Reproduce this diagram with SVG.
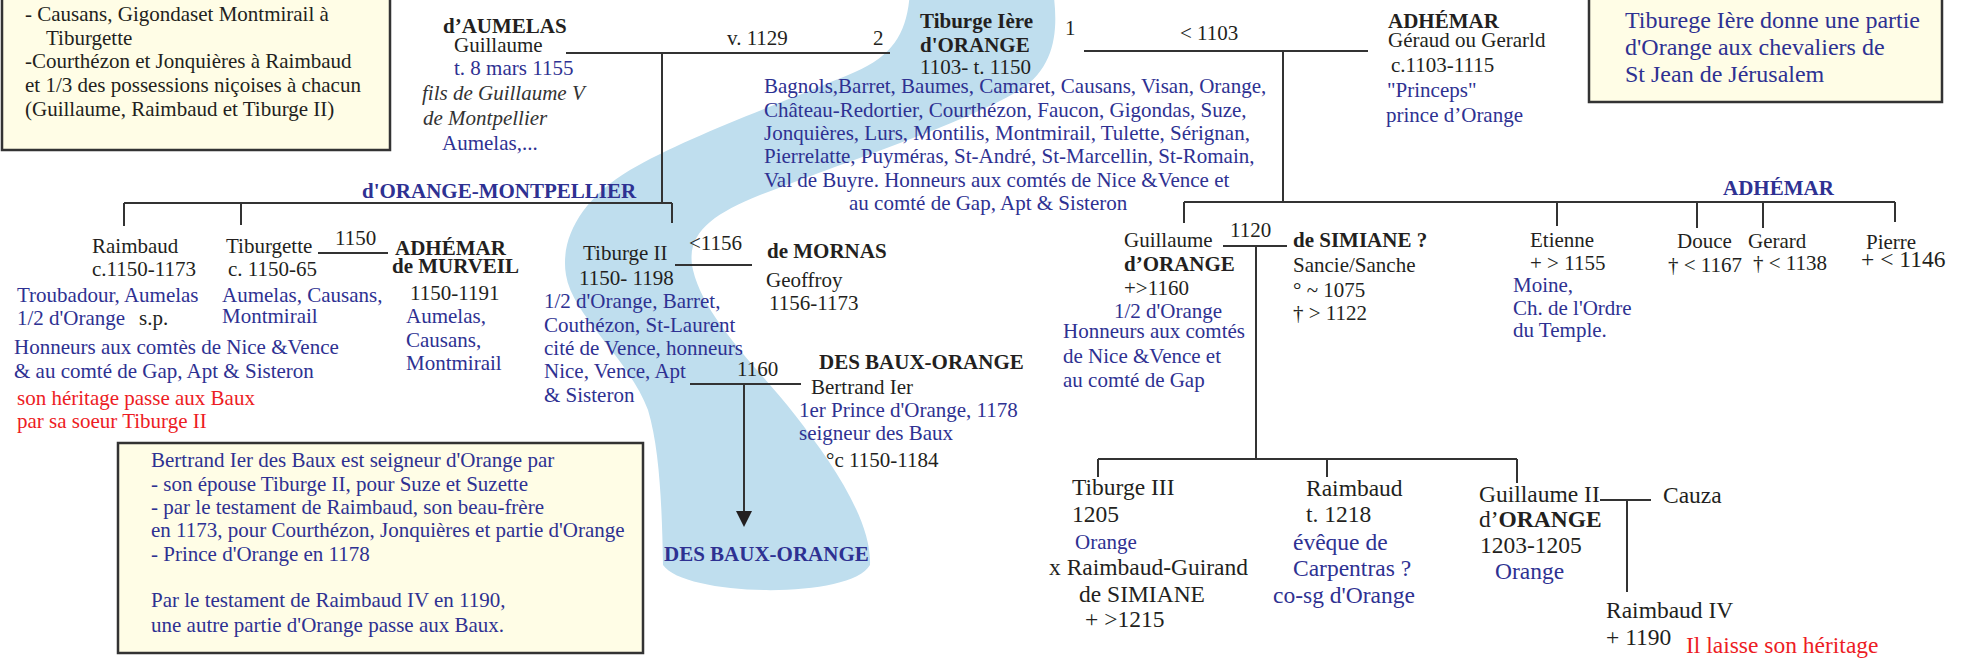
<svg xmlns="http://www.w3.org/2000/svg" width="1966" height="659" viewBox="0 0 1966 659">
<style>
text{font-family:"Liberation Serif","Times New Roman",serif;font-size:21px;fill:#231F20}
.b{font-weight:bold}
.bl{fill:#2E3192}
.r{fill:#ED1C24}
.i{font-style:italic;fill:#333}
.lg{font-size:23.5px}
.nt{font-size:24px}
.ln{stroke:#333;stroke-width:2;fill:none}
.box{fill:#FFFDE6;stroke:#333;stroke-width:2.5}
.band{fill:#BFDEEE}
</style>
<defs>
<marker id="arr" markerWidth="16" markerHeight="16" refX="8" refY="15" orient="auto" markerUnits="userSpaceOnUse" viewBox="0 0 16 16">
<path d="M0,0 L16,0 L8,16 Z" fill="#231F20" transform="rotate(-90 8 8)"/>
</marker>
</defs>
<rect width="1966" height="659" fill="#FFFFFF"/>
<path class="band" d="M 910,-10 C 908,30 895,55 855,72 C 790,100 690,135 630,170 C 580,200 560,240 566,275 C 572,315 630,360 648,410 C 660,450 662,510 663,565 C 685,597 850,600 870,565 C 872,520 830,460 795,415 C 760,370 705,320 693,270 C 685,235 710,215 760,195 C 850,160 960,125 1020,90 C 1058,65 1058,25 1053,-10 Z"/>

<g id="connectors">
<path class="ln" d="M566,53 H890 M662,53 V203 M124,203 H672 M124,203 V226 M241,203 V225 M672,203 V223"/>
<path class="ln" d="M318,253 H388"/>
<path class="ln" d="M675,265 H752"/>
<path class="ln" d="M690,384 H801 M744,384 V511"/>
<path d="M736,511 L752,511 L744,527 Z" fill="#231F20"/>
<path class="ln" d="M1084,51 H1368 M1283,51 V202 M1184,202 H1895 M1184,202 V223 M1557,202 V226 M1697,202 V228 M1763,202 V228 M1895,202 V222"/>
<path class="ln" d="M1223,246 H1287 M1256,246 V459 M1098,459 H1517 M1098,459 V477 M1327,459 V477 M1517,459 V483"/>
<path class="ln" d="M1600,500 H1651 M1627,500 V592"/>
<text x="727" y="45">v. 1129</text>
<text x="873" y="45">2</text>
<text x="1065" y="35">1</text>
<text x="1180" y="40">&lt; 1103</text>
<text x="335" y="245">1150</text>
<text x="689" y="250">&lt;1156</text>
<text x="737" y="376">1160</text>
<text x="1230" y="237">1120</text>
</g>

<g id="n-note-partage">
<rect class="box" x="2" y="-10" width="388" height="160"/>
<text x="25" y="21">- Causans, Gigondaset Montmirail à</text>
<text x="46" y="45">Tiburgette</text>
<text x="25" y="68">-Courthézon et Jonquières à Raimbaud</text>
<text x="25" y="92">et 1/3 des possessions niçoises à chacun</text>
<text x="25" y="116">(Guillaume, Raimbaud et Tiburge II)</text>
</g>

<g id="n-aumelas">
<text class="b" x="443" y="33">d’AUMELAS</text>
<text x="454" y="52">Guillaume</text>
<text class="bl" x="454" y="75">t. 8 mars 1155</text>
<text class="i" x="422" y="100">fils de Guillaume V</text>
<text class="i" x="423" y="125">de Montpellier</text>
<text class="bl" x="442" y="150">Aumelas,...</text>
</g>

<g id="n-tiburge1">
<text class="b" x="920" y="28">Tiburge Ière</text>
<text class="b" x="920" y="52">d'ORANGE</text>
<text x="920" y="74">1103- t. 1150</text>
<text class="bl" x="764" y="93">Bagnols,Barret, Baumes, Camaret, Causans, Visan, Orange,</text>
<text class="bl" x="764" y="117">Château-Redortier, Courthézon, Faucon, Gigondas, Suze,</text>
<text class="bl" x="764" y="140">Jonquières, Lurs, Montilis, Montmirail, Tulette, Sérignan,</text>
<text class="bl" x="764" y="163">Pierrelatte, Puyméras, St-André, St-Marcellin, St-Romain,</text>
<text class="bl" x="764" y="187">Val de Buyre. Honneurs aux comtés de Nice &amp;Vence et</text>
<text class="bl" x="849" y="210">au comté de Gap, Apt &amp; Sisteron</text>
</g>

<g id="n-adhemar">
<text class="b" x="1388" y="28">ADHÉMAR</text>
<text x="1388" y="47">Géraud ou Gerarld</text>
<text x="1391" y="72">c.1103-1115</text>
<text class="bl" x="1387" y="97">"Princeps"</text>
<text class="bl" x="1386" y="122">prince d’Orange</text>
</g>

<g id="n-note-hospitaliers">
<rect class="box" x="1589" y="-10" width="353" height="112"/>
<text class="bl nt" x="1625" y="28">Tiburege Ière donne une partie</text>
<text class="bl nt" x="1625" y="55">d'Orange aux chevaliers de</text>
<text class="bl nt" x="1625" y="82">St Jean de Jérusalem</text>
</g>

<g id="n-label-montpellier">
<text class="b bl" x="362" y="198">d'ORANGE-MONTPELLIER</text>
</g>
<g id="n-label-adhemar">
<text class="b bl" x="1723" y="195">ADHÉMAR</text>
</g>

<g id="n-raimbaud">
<text x="92" y="253">Raimbaud</text>
<text x="92" y="276">c.1150-1173</text>
<text class="bl" x="17" y="302">Troubadour, Aumelas</text>
<text class="bl" x="17" y="325">1/2 d'Orange</text>
<text x="139" y="325">s.p.</text>
<text class="bl" x="14" y="354">Honneurs aux comtès de Nice &amp;Vence</text>
<text class="bl" x="14" y="378">&amp; au comté de Gap, Apt &amp; Sisteron</text>
<text class="r" x="17" y="405">son héritage passe aux Baux</text>
<text class="r" x="17" y="428">par sa soeur Tiburge II</text>
</g>

<g id="n-tiburgette">
<text x="226" y="253">Tiburgette</text>
<text x="228" y="276">c. 1150-65</text>
<text class="bl" x="222" y="302">Aumelas, Causans,</text>
<text class="bl" x="222" y="323">Montmirail</text>
</g>

<g id="n-murveil">
<text class="b" x="395" y="255">ADHÉMAR</text>
<text class="b" x="392" y="273">de MURVEIL</text>
<text x="410" y="300">1150-1191</text>
<text class="bl" x="406" y="323">Aumelas,</text>
<text class="bl" x="406" y="347">Causans,</text>
<text class="bl" x="406" y="370">Montmirail</text>
</g>

<g id="n-tiburge2">
<text x="583" y="260">Tiburge II</text>
<text x="579" y="285">1150- 1198</text>
<text class="bl" x="544" y="308">1/2 d'Orange, Barret,</text>
<text class="bl" x="544" y="332">Couthézon, St-Laurent</text>
<text class="bl" x="544" y="355">cité de Vence, honneurs</text>
<text class="bl" x="544" y="378">Nice, Vence, Apt</text>
<text class="bl" x="544" y="402">&amp; Sisteron</text>
</g>

<g id="n-mornas">
<text class="b" x="767" y="258">de MORNAS</text>
<text x="766" y="287">Geoffroy</text>
<text x="769" y="310">1156-1173</text>
</g>

<g id="n-bertrand">
<text class="b" x="819" y="369">DES BAUX-ORANGE</text>
<text x="811" y="394">Bertrand Ier</text>
<text class="bl" x="799" y="417">1er Prince d'Orange, 1178</text>
<text class="bl" x="799" y="440">seigneur des Baux</text>
<text x="826" y="467">°c 1150-1184</text>
</g>

<g id="n-baux-orange">
<text class="b bl" x="664" y="561">DES BAUX-ORANGE</text>
</g>

<g id="n-note-baux">
<rect class="box" x="118" y="443" width="525" height="210"/>
<text class="bl" x="151" y="467">Bertrand Ier des Baux est seigneur d'Orange par</text>
<text class="bl" x="151" y="491">- son épouse Tiburge II, pour Suze et Suzette</text>
<text class="bl" x="151" y="514">- par le testament de Raimbaud, son beau-frère</text>
<text class="bl" x="151" y="537">en 1173, pour Courthézon, Jonquières et partie d'Orange</text>
<text class="bl" x="151" y="561">- Prince d'Orange en 1178</text>
<text class="bl" x="151" y="607">Par le testament de Raimbaud IV en 1190,</text>
<text class="bl" x="151" y="632">une autre partie d'Orange passe aux Baux.</text>
</g>

<g id="n-guillaume">
<text x="1124" y="247">Guillaume</text>
<text class="b" x="1124" y="271">d’ORANGE</text>
<text x="1124" y="295">+&gt;1160</text>
<text class="bl" x="1114" y="318">1/2 d'Orange</text>
<text class="bl" x="1063" y="338">Honneurs aux comtés</text>
<text class="bl" x="1063" y="363">de Nice &amp;Vence et</text>
<text class="bl" x="1063" y="387">au comté de Gap</text>
</g>

<g id="n-simiane">
<text class="b" x="1293" y="247">de SIMIANE ?</text>
<text x="1293" y="272">Sancie/Sanche</text>
<text x="1293" y="297">° ~ 1075</text>
<text x="1293" y="320">† &gt; 1122</text>
</g>

<g id="n-etienne">
<text x="1530" y="247">Etienne</text>
<text x="1530" y="270">+ &gt; 1155</text>
<text class="bl" x="1513" y="292">Moine,</text>
<text class="bl" x="1513" y="315">Ch. de l'Ordre</text>
<text class="bl" x="1513" y="337">du Temple.</text>
</g>

<g id="n-douce">
<text x="1677" y="248">Douce</text>
<text x="1668" y="272">† &lt; 1167</text>
</g>

<g id="n-gerard">
<text x="1748" y="248">Gerard</text>
<text x="1753" y="270">† &lt; 1138</text>
</g>

<g id="n-pierre">
<text x="1866" y="249">Pierre</text>
<text class="lg" x="1861" y="267">+ &lt; 1146</text>
</g>

<g id="n-tiburge3">
<text class="lg" x="1072" y="495">Tiburge III</text>
<text class="lg" x="1072" y="522">1205</text>
<text class="bl" x="1075" y="549">Orange</text>
<text class="lg" x="1049" y="575">x Raimbaud-Guirand</text>
<text class="lg" x="1079" y="602">de SIMIANE</text>
<text class="lg" x="1085" y="627">+ &gt;1215</text>
</g>

<g id="n-raimbaud-eveque">
<text class="lg" x="1306" y="496">Raimbaud</text>
<text class="lg" x="1306" y="522">t. 1218</text>
<text class="bl lg" x="1293" y="550">évêque de</text>
<text class="bl lg" x="1293" y="576">Carpentras ?</text>
<text class="bl lg" x="1273" y="603">co-sg d'Orange</text>
</g>

<g id="n-guillaume2">
<text class="lg" x="1479" y="502">Guillaume II</text>
<text class="lg" x="1479" y="527">d’<tspan class="b">ORANGE</tspan></text>
<text class="lg" x="1480" y="553">1203-1205</text>
<text class="bl lg" x="1495" y="579">Orange</text>
</g>

<g id="n-cauza">
<text class="lg" x="1663" y="503">Cauza</text>
</g>

<g id="n-raimbaud4">
<text class="lg" x="1606" y="618">Raimbaud IV</text>
<text class="lg" x="1606" y="645">+ 1190</text>
<text class="r lg" x="1686" y="653">Il laisse son héritage</text>
</g>
</svg>
